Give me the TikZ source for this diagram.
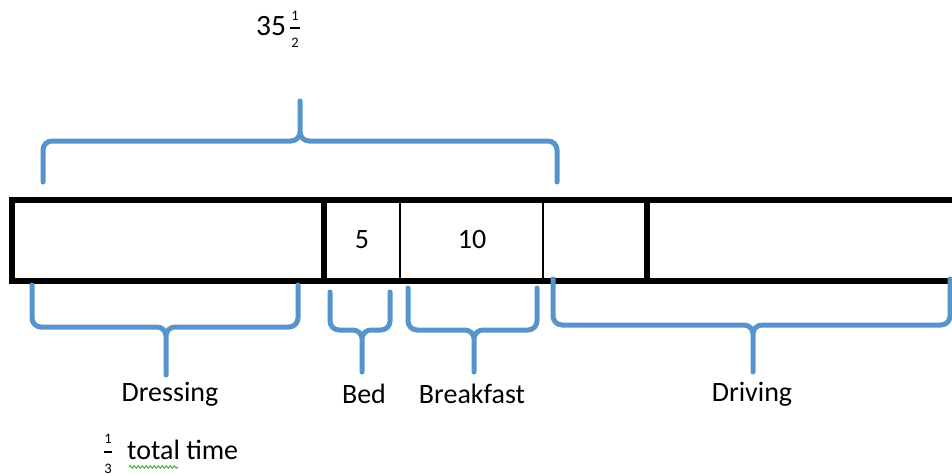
\documentclass[tikz,border=0pt]{standalone}
\usepackage{fontspec}
\setmainfont{Carlito}
\usetikzlibrary{positioning,decorations.pathmorphing}
\definecolor{braceblue}{RGB}{88,148,204}
\definecolor{spellgreen}{RGB}{70,170,60}

\begin{document}
\begin{tikzpicture}[x=1pt,y=-1pt,
    thick bar/.style={line width=5.5pt},
    thin bar/.style={line width=1.5pt},
    bracket/.style={draw=braceblue,line width=5pt,rounded corners=9pt,line cap=round},
    label/.style={font=\fontsize{28}{32}\selectfont,inner sep=0pt},
    frac digit/.style={font=\fontsize{14.5}{15}\selectfont,inner sep=0pt},
    frac rule/.style={line width=1.4pt}]
\useasboundingbox (0,0) rectangle (952,476);
\clip (0,0) rectangle (952,476);

% the strip of times
\draw[thick bar] (12,200) rectangle (975,281);
\draw[thick bar] (324,200) -- (324,281);
\draw[thick bar] (647,200) -- (647,281);
\draw[thin bar] (400,200) -- (400,281);
\draw[thin bar] (543,200) -- (543,281);
\node[label] (bed) at (362,240) {5};
\node[label] (breakfast) at (472,240) {10};

% brace over the first part
\draw[bracket] (43,182) -- (43,141) -- (300,141) -- (300,101)
               (557,182) -- (557,141) -- (300,141) -- (300,101);
\node[label,font=\fontsize{29.5}{34}\selectfont,anchor=base] (total) at (271,36) {35};
\node[frac digit] (half num) at (295,16) {1};
\draw[frac rule] (290,28) -- (300,28);
\node[frac digit] (half den) at (295,43) {2};

% braces under the strip
\foreach \l/\r/\m/\t/\h/\b in {32/298/166/285/327/375, 330/390/362/292/330/372,
                               408/537/474/288/330/372, 553/950/753/279/325/372}
  \draw[bracket] (\l,\t) -- (\l,\h) -- (\m,\h) -- (\m,\b)
                 (\r,\t) -- (\r,\h) -- (\m,\h) -- (\m,\b);

\node[label] (dressing) at (170,394) {Dressing};
\node[label] (bedtext) at (364,394) {Bed};
\node[label] (breakfasttext) at (472,394) {Breakfast};
\node[label] (driving) at (752,394) {Driving};

% one third of the total
\node[frac digit] (third num) at (108,439) {1};
\draw[frac rule] (104,452) -- (112,452);
\node[frac digit] (third den) at (108,469) {3};
\node[label,anchor=base west] (third) at (127,459) {total time};
\draw[spellgreen,line width=1pt,decorate,decoration={snake,amplitude=1.2pt,segment length=4pt}]
  (129,467) -- (178,467);
\end{tikzpicture}
\end{document}
